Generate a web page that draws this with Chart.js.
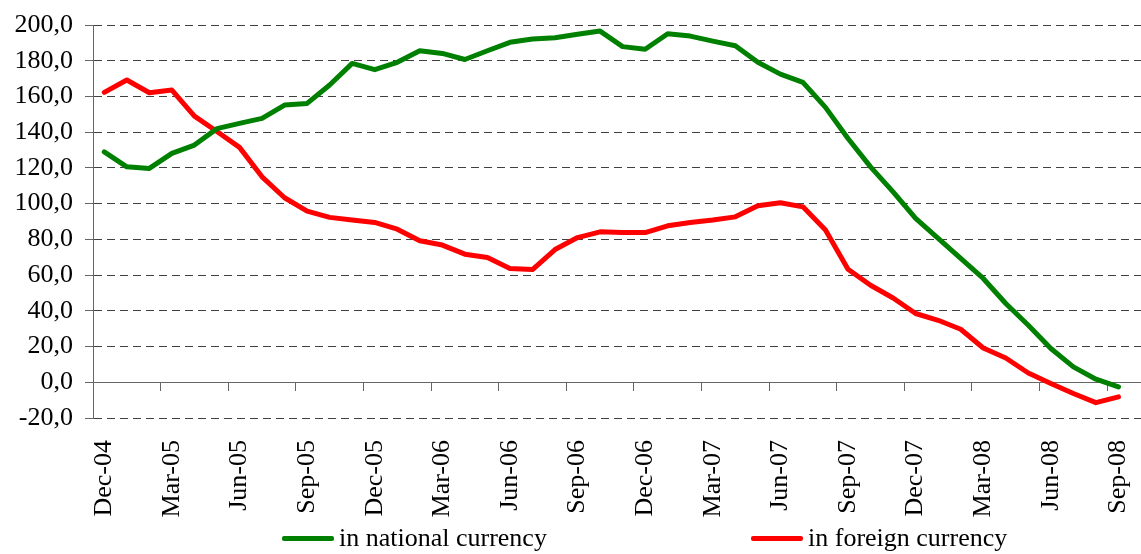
<!DOCTYPE html>
<html>
<head>
<meta charset="utf-8">
<title>Loans growth</title>
<script src="https://cdn.jsdelivr.net/npm/chart.js@4.4.1/dist/chart.umd.min.js"></script>
<style>
  html, body { margin: 0; padding: 0; background: #fff; }
  #wrap { position: relative; width: 1141px; height: 554px; overflow: hidden; }
  #chart { display: block; }
  .legend { position: absolute; left: 0; top: 523px; width: 1141px; height: 30px;
            font: 26px "Liberation Serif", "Times New Roman", serif; color: #000; }
  .legend .item { position: absolute; top: 0; height: 30px; display: flex; align-items: center; white-space: nowrap; }
  .legend .swatch { width: 52px; height: 5px; border-radius: 2px; margin-right: 5px; }
</style>
</head>
<body>
<div id="wrap">
  <canvas id="chart" width="1141" height="554"></canvas>
  <div class="legend" id="legend"></div>
</div>
<script>
// months on the category axis (every 3rd one is labelled)
const months = [
  'Dec-04',
  'Jan-05', 'Feb-05', 'Mar-05', 'Apr-05', 'May-05', 'Jun-05', 'Jul-05', 'Aug-05', 'Sep-05', 'Oct-05', 'Nov-05', 'Dec-05',
  'Jan-06', 'Feb-06', 'Mar-06', 'Apr-06', 'May-06', 'Jun-06', 'Jul-06', 'Aug-06', 'Sep-06', 'Oct-06', 'Nov-06', 'Dec-06',
  'Jan-07', 'Feb-07', 'Mar-07', 'Apr-07', 'May-07', 'Jun-07', 'Jul-07', 'Aug-07', 'Sep-07', 'Oct-07', 'Nov-07', 'Dec-07',
  'Jan-08', 'Feb-08', 'Mar-08', 'Apr-08', 'May-08', 'Jun-08', 'Jul-08', 'Aug-08', 'Sep-08'
];

// series values
const nationalCurrency = [
  129.0, 120.6, 119.7, 128.1, 132.8, 142.0, 144.9, 147.7, 155.2, 156.1, 166.4, 178.5, 175.0,
  179.1, 185.6, 184.1, 180.7, 185.6, 190.3, 192.2, 192.9, 194.8, 196.6, 187.9, 186.4,
  195.1, 193.8, 191.0, 188.4, 179.1, 172.5, 167.9, 153.9, 136.5, 120.6, 106.6, 91.7,
  80.5, 69.3, 58.1, 44.1, 31.9, 18.9, 8.6, 1.7, -2.6
];
const foreignCurrency = [
  162.3, 169.2, 162.1, 163.6, 149.0, 140.4, 131.5, 115.0, 103.3, 95.8, 92.3, 90.8, 89.5,
  85.7, 79.2, 76.8, 71.7, 69.8, 63.7, 63.1, 74.3, 81.0, 84.2, 83.8, 83.8,
  87.6, 89.4, 90.8, 92.6, 98.8, 100.5, 98.2, 85.2, 63.3, 54.3, 47.2, 38.5,
  34.7, 29.7, 19.2, 13.6, 5.2, -0.7, -6.3, -11.4, -8.2
];

const seriesNames = ['in national currency', 'in foreign currency'];
const seriesColors = ['#008000', '#ff0000'];

const yTicks = { min: -20, max: 200, step: 20 };

const FONT = { family: '"Liberation Serif", "Times New Roman", serif', size: 26 };

function toPoints(values) {
  return values.map((v, i) => ({ x: i, y: v }));
}

// every 3rd month gets a label, tick marks sit on the boundaries before them
const labelIdx = months.map((m, i) => i).filter(i => i % 3 === 0);

const ctx = document.getElementById('chart').getContext('2d');
const chart = new Chart(ctx, {
  type: 'line',
  data: {
    datasets: [nationalCurrency, foreignCurrency].map((vals, k) => ({
      label: seriesNames[k],
      data: toPoints(vals),
      borderColor: seriesColors[k],
      backgroundColor: seriesColors[k],
      borderWidth: 5,
      pointRadius: 0,
      tension: 0,
      borderJoinStyle: 'round',
      borderCapStyle: 'round',
      xAxisID: 'x',
      yAxisID: 'y'
    }))
  },
  options: {
    responsive: false,
    animation: false,
    events: [],
    layout: { padding: { left: 14, top: 25, right: 0, bottom: 36 } },
    plugins: { legend: { display: false }, tooltip: { enabled: false } },
    scales: {
      x: {
        type: 'linear',
        position: 'bottom',
        min: -0.5,
        max: 46,
        bounds: 'data',
        afterBuildTicks: axis => { axis.ticks = labelIdx.map(i => ({ value: i })); },
        afterFit: axis => { axis.height = 100; axis.paddingLeft = 0; axis.paddingRight = 0; },
        grid: { display: false, drawTicks: false },
        border: { display: false },
        ticks: {
          autoSkip: false,
          minRotation: 90,
          maxRotation: 90,
          padding: 22,
          color: '#000',
          font: FONT,
          callback: v => months[v]
        }
      },
      xZero: {
        type: 'linear',
        position: { y: 0 },
        min: -0.5,
        max: 46,
        bounds: 'data',
        afterBuildTicks: axis => { axis.ticks = labelIdx.map(i => ({ value: i - 0.5 })); },
        afterFit: axis => { axis.height = 0; axis.paddingLeft = 0; axis.paddingRight = 0; },
        grid: { drawOnChartArea: false, drawTicks: true, tickLength: 8, color: '#666' },
        border: { display: true, color: '#666', width: 1 },
        ticks: { display: false }
      },
      y: {
        min: yTicks.min,
        max: yTicks.max,
        afterFit: axis => { axis.width = 79; axis.paddingTop = 0; axis.paddingBottom = 0; },
        ticks: {
          stepSize: yTicks.step,
          autoSkip: false,
          padding: 12,
          color: '#000',
          font: FONT,
          callback: v => v.toFixed(1).replace('.', ',')
        },
        grid: { color: '#404040', lineWidth: 1, drawTicks: true, tickLength: 8, tickColor: '#666' },
        border: { display: true, color: '#666', width: 1, dash: [8, 5] }
      }
    }
  }
});

// legend below the plot
const legendPos = [282, 751];
const legend = document.getElementById('legend');
chart.data.datasets.forEach((ds, k) => {
  legend.innerHTML += `<div class="item" style="left:${legendPos[k]}px"><span class="swatch" style="background:${ds.borderColor}"></span><span>${ds.label}</span></div>`;
});
</script>
</body>
</html>
